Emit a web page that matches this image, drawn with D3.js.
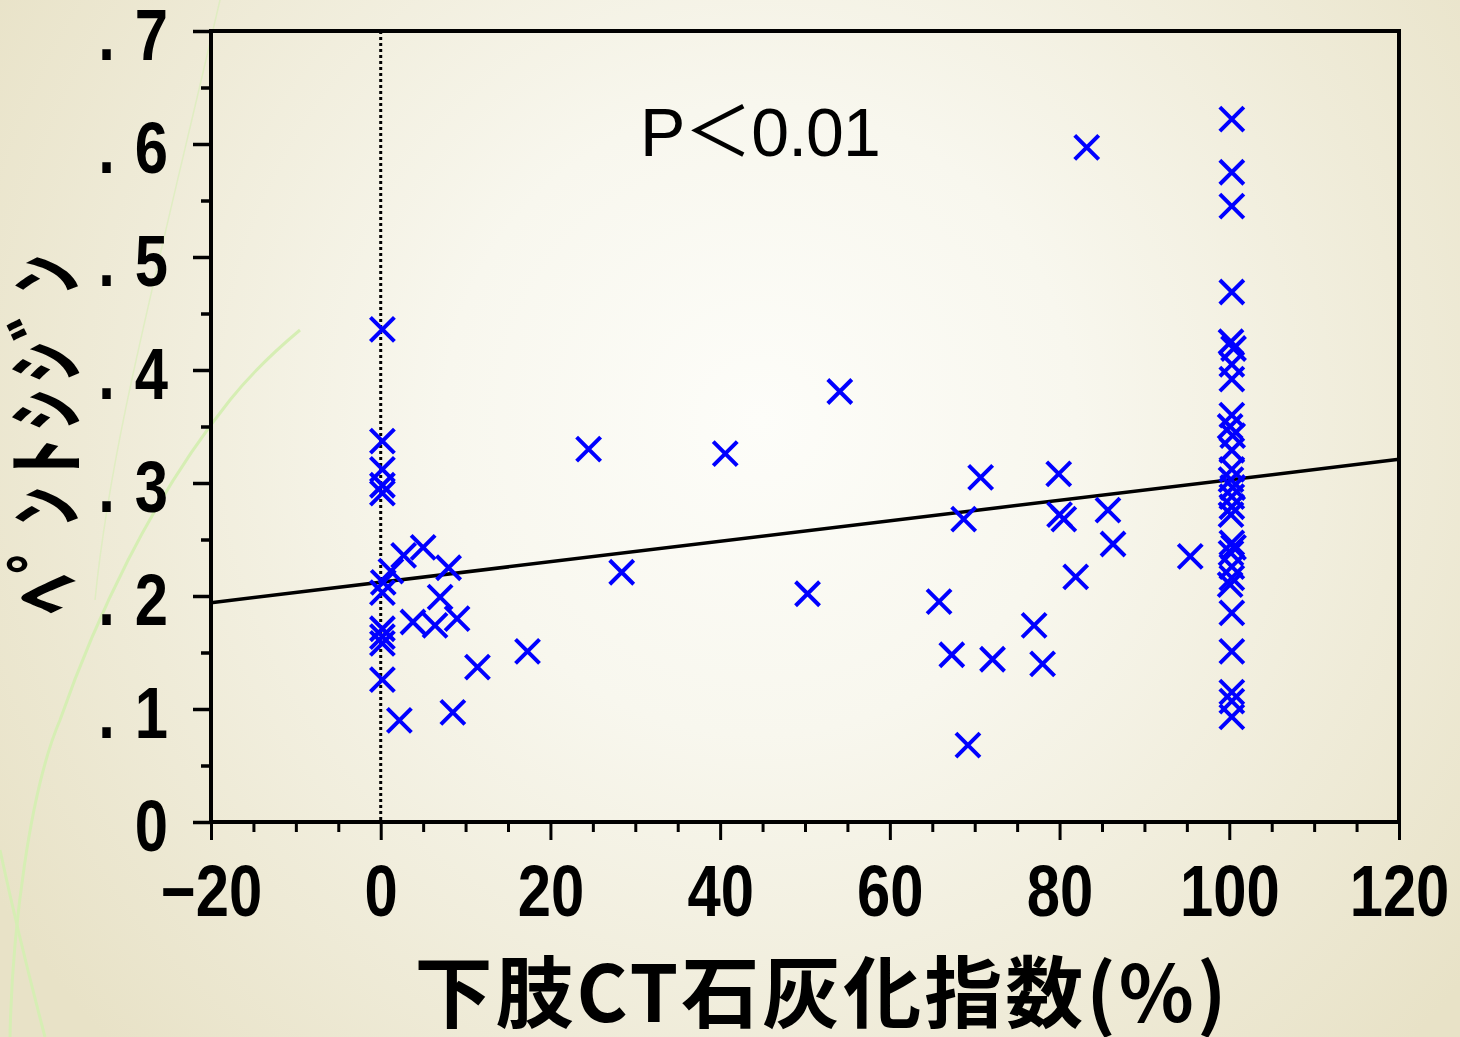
<!DOCTYPE html>
<html>
<head>
<meta charset="utf-8">
<script src="https://cdn.jsdelivr.net/npm/d3@7"></script>
<style>
  body { margin: 0; background: #f4f1e2; }
  svg { display: block; }
  .tick text { font-family: 'Liberation Sans', Arial, sans-serif; font-weight: bold; }
</style>
</head>
<body>
<div id="chart"></div>
<script>
// x: 下肢CT石灰化指数 (%), y: ペントシジン
const calcIndex = [
    0.2, 0.2, 0.2, 0.2, 0.2, 0.3, 0.2, 0.2, 0.2, 0.2, 0.2, 1.2,
    2.7, 5.0, 8.0, 7.0, 3.8, 6.4, 9.0, 2.2, 8.5, 11.4, 17.3,
    24.5, 40.6, 54.1, 28.4, 50.3, 83.2,
    70.7, 79.9, 68.7, 80.0, 80.5, 85.7, 86.3, 95.4, 81.9, 65.8, 77.0, 67.3, 72.1, 78.0, 69.2,
    100.3, 100.3, 100.3, 100.3, 100.2, 100.5, 100.3, 100.3, 100.3, 100.1, 100.4, 100.3,
    100.3, 100.2, 100.4, 100.3, 100.3, 100.2, 100.3, 100.5, 100.2, 100.3, 100.3, 100.1,
    100.3, 100.3, 100.3, 100.3, 100.3
];
const pentosidine = [
    0.436, 0.337, 0.312, 0.298, 0.291, 0.212, 0.203, 0.171, 0.164, 0.158, 0.126, 0.222,
    0.236, 0.243, 0.225, 0.199, 0.177, 0.174, 0.180, 0.090, 0.097, 0.137, 0.151,
    0.330, 0.326, 0.381, 0.221, 0.202, 0.597,
    0.305, 0.308, 0.268, 0.272, 0.268, 0.276, 0.246, 0.235, 0.217, 0.195, 0.174, 0.148, 0.144, 0.140, 0.068,
    0.622, 0.575, 0.545, 0.469, 0.425, 0.419, 0.405, 0.392, 0.360, 0.350, 0.342, 0.329,
    0.312, 0.303, 0.296, 0.288, 0.279, 0.272, 0.247, 0.243, 0.238, 0.226, 0.216, 0.210,
    0.185, 0.151, 0.115, 0.107, 0.093
];
// regression line y = a + b x
const fitIntercept = 0.2122;
const fitSlope = 0.000906;
const xTicks = [-20, 0, 20, 40, 60, 80, 100, 120];
const yTicks = [0, 0.1, 0.2, 0.3, 0.4, 0.5, 0.6, 0.7];
const xTitle = '下肢CT石灰化指数(%)';
const yTitle = 'ﾍﾟﾝﾄｼｼﾞﾝ';
const note = 'P＜0.01';

const W = 1460, H = 1037;
const plotL = 211, plotR = 1399, plotT = 31, plotB = 822;
const narrow = 0.83;   // horizontal squeeze for the narrow tick digits

const svg = d3.select('#chart').append('svg')
    .attr('width', W)
    .attr('height', H);

// background
const defs = svg.append('defs');
const grad = defs.append('radialGradient')
    .attr('id', 'bg')
    .attr('gradientUnits', 'userSpaceOnUse')
    .attr('cx', 760).attr('cy', 420).attr('r', 900);
grad.append('stop').attr('offset', '0').attr('stop-color', '#fdfdf9');
grad.append('stop').attr('offset', '0.35').attr('stop-color', '#f8f7ee');
grad.append('stop').attr('offset', '1').attr('stop-color', '#e8e2c7');
svg.append('rect').attr('width', W).attr('height', H).attr('fill', 'url(#bg)');

// faint decorative swooshes
const deco = svg.append('g').attr('fill', 'none').attr('stroke', '#d6eeb4');
deco.append('path')
    .attr('stroke-width', 3)
    .attr('d', 'M10,1037 C12,930 30,790 60,720 C95,620 150,500 230,400 C250,375 270,355 300,330');
deco.append('path')
    .attr('stroke-width', 3)
    .attr('d', 'M0,850 C15,920 30,980 45,1037');
deco.append('path')
    .attr('stroke-width', 1.5).attr('opacity', 0.6)
    .attr('d', 'M95,600 C110,450 150,300 220,0');

const x = d3.scaleLinear().domain([-20, 120]).range([plotL, plotR]);
const y = d3.scaleLinear().domain([0, 0.7]).range([plotB, plotT]);

// minor ticks
svg.append('g')
    .attr('transform', 'translate(' + plotL + ',0)')
    .call(d3.axisLeft(y).tickValues(d3.range(0.05, 0.7, 0.1)).tickSize(10).tickSizeOuter(0).tickFormat(''))
    .call(g => g.select('.domain').remove())
    .selectAll('line').attr('stroke-width', 3.5);
svg.append('g')
    .attr('transform', 'translate(0,' + plotB + ')')
    .call(d3.axisBottom(x).tickValues(d3.range(-15, 120, 5).filter(v => v % 20 !== 0)).tickSize(10).tickSizeOuter(0).tickFormat(''))
    .call(g => g.select('.domain').remove())
    .selectAll('line').attr('stroke-width', 3);

// major axes
const yAxis = svg.append('g')
    .attr('transform', 'translate(' + plotL + ',0)')
    .call(d3.axisLeft(y).tickValues(yTicks).tickSize(18).tickSizeOuter(0).tickPadding(25)
        .tickFormat(d => d === 0 ? '0' : '.\u2004' + Math.round(d * 10)));
yAxis.selectAll('line').attr('stroke-width', 3.5);
yAxis.selectAll('text')
    .attr('font-size', 72)
    .attr('dy', '0.39em')
    .attr('fill', '#000')
    .attr('x', -43 / narrow)
    .attr('transform', 'scale(' + narrow + ',1)');

const xAxis = svg.append('g')
    .attr('transform', 'translate(0,' + plotB + ')')
    .call(d3.axisBottom(x).tickValues(xTicks).tickSize(18).tickSizeOuter(0).tickPadding(25));
xAxis.selectAll('line').attr('stroke-width', 3);
xAxis.selectAll('text')
    .attr('font-size', 72)
    .attr('fill', '#000')
    .attr('transform', 'scale(' + narrow + ',1)');

// frame
svg.append('rect')
    .attr('x', plotL).attr('y', plotT)
    .attr('width', plotR - plotL).attr('height', plotB - plotT)
    .attr('fill', 'none')
    .attr('stroke', '#000')
    .attr('stroke-width', 4);

// x = 0 reference
svg.append('line')
    .attr('x1', x(0)).attr('x2', x(0))
    .attr('y1', y(0.7)).attr('y2', y(0))
    .attr('stroke', '#000')
    .attr('stroke-width', 3)
    .attr('stroke-dasharray', '3,3');

// regression line
svg.append('line')
    .attr('x1', x(-20)).attr('y1', y(fitIntercept + fitSlope * -20))
    .attr('x2', x(120)).attr('y2', y(fitIntercept + fitSlope * 120))
    .attr('stroke', '#000')
    .attr('stroke-width', 3.5);

// points
const pts = calcIndex.map((v, i) => ({x: v, y: pentosidine[i]}));
const s = 12;
svg.append('g').selectAll('path.pt').data(pts).enter().append('path')
    .classed('pt', true)
    .attr('transform', d => 'translate(' + x(d.x) + ',' + y(d.y) + ')')
    .attr('d', 'M' + -s + ',' + -s + 'L' + s + ',' + s + 'M' + s + ',' + -s + 'L' + -s + ',' + s)
    .attr('fill', 'none')
    .attr('stroke', '#0000ff')
    .attr('stroke-width', 4);

// annotation
svg.append('text')
    .attr('x', 640).attr('y', 156)
    .attr('font-family', "'Liberation Sans', 'Noto Sans CJK JP', sans-serif")
    .attr('font-size', 68)
    .attr('letter-spacing', -1)
    .attr('fill', '#000')
    .text(note);

// titles
svg.append('text')
    .attr('x', 822).attr('y', 1022)
    .attr('text-anchor', 'middle')
    .attr('font-family', "'Noto Sans CJK JP', sans-serif")
    .attr('font-weight', 'bold')
    .attr('font-size', 78)
    .attr('letter-spacing', 3)
    .attr('fill', '#000')
    .text(xTitle);

svg.append('text')
    .attr('transform', 'translate(75,430) rotate(-90)')
    .attr('text-anchor', 'middle')
    .attr('font-family', "'Noto Sans CJK JP', sans-serif")
    .attr('font-weight', 'bold')
    .attr('font-size', 80)
    .attr('letter-spacing', 8)
    .attr('fill', '#000')
    .text(yTitle);
</script>
</body>
</html>
